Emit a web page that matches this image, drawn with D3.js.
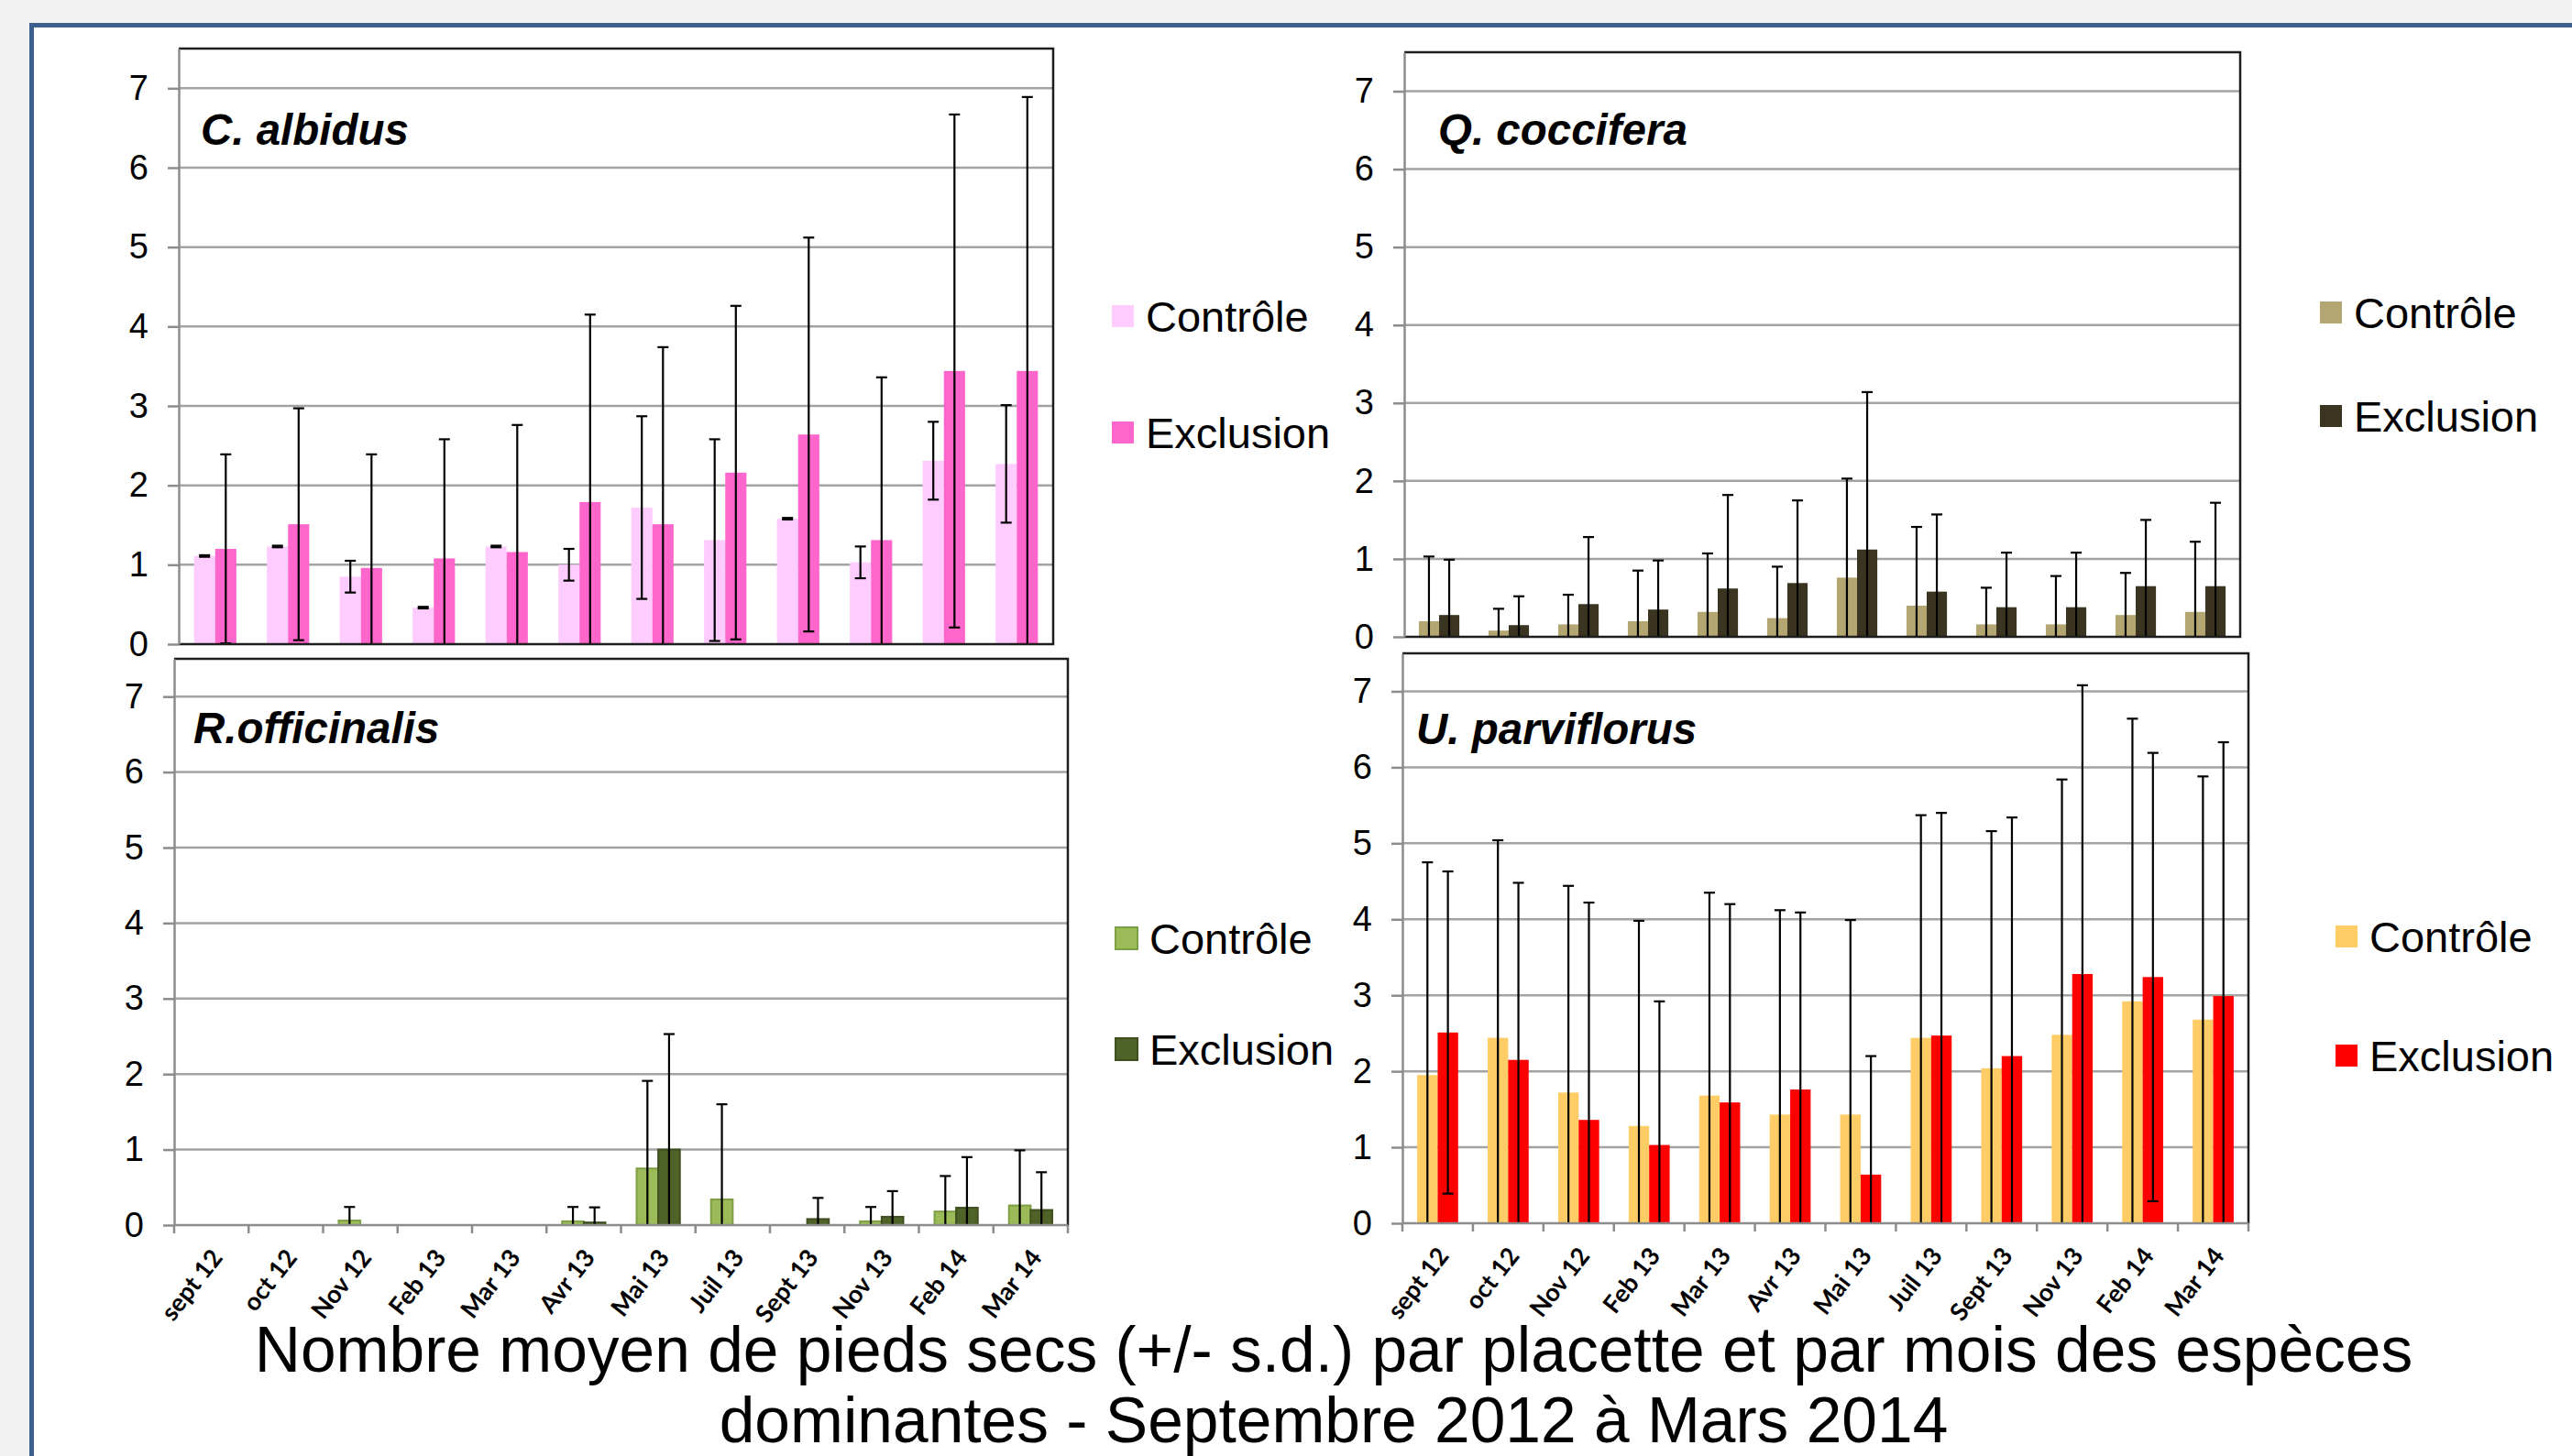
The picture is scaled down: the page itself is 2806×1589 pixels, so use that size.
<!DOCTYPE html>
<html>
<head>
<meta charset="utf-8">
<script src="https://cdn.jsdelivr.net/npm/d3@7"></script>
<style>
    html, body { margin: 0; padding: 0; background: #f2f2f2; }
    svg { display: block; }
</style>
</head>
<body>
<svg id="chart" width="2806" height="1589"></svg>
<script>
var months = ['sept 12', 'oct 12', 'Nov 12', 'Feb 13', 'Mar 13', 'Avr 13', 'Mai 13', 'Juil 13', 'Sept 13', 'Nov 13', 'Feb 14', 'Mar 14'];
var yTicks = [0, 1, 2, 3, 4, 5, 6, 7];
var seriesNames = ['Contrôle', 'Exclusion'];

var albidusCtrl   = [1.11, 1.23, 0.85, 0.46, 1.23, 1.00, 1.72, 1.31, 1.58, 1.03, 2.31, 2.27];
var albidusCtrlSd = [0.01, 0.01, 0.20, 0.01, 0.01, 0.20, 1.15, 1.27, 0.01, 0.20, 0.49, 0.74];
var albidusExcl   = [1.20, 1.51, 0.96, 1.08, 1.16, 1.79, 1.51, 2.16, 2.64, 1.31, 3.44, 3.44];
var albidusExclSd = [1.19, 1.46, 1.43, 1.50, 1.60, 2.36, 2.23, 2.10, 2.48, 2.05, 3.23, 3.45];

var cocciferaCtrl   = [0.20, 0.08, 0.16, 0.20, 0.32, 0.24, 0.76, 0.40, 0.16, 0.16, 0.28, 0.32];
var cocciferaCtrlSd = [0.83, 0.28, 0.38, 0.65, 0.75, 0.66, 1.27, 1.01, 0.47, 0.62, 0.54, 0.90];
var cocciferaExcl   = [0.28, 0.15, 0.42, 0.35, 0.62, 0.69, 1.12, 0.58, 0.38, 0.38, 0.65, 0.65];
var cocciferaExclSd = [0.71, 0.37, 0.86, 0.63, 1.20, 1.06, 2.02, 0.99, 0.70, 0.70, 0.85, 1.07];

var officinalisCtrl   = [0, 0, 0.06, 0, 0, 0.05, 0.75, 0.34, 0, 0.05, 0.18, 0.26];
var officinalisCtrlSd = [0, 0, 0.18, 0, 0, 0.19, 1.16, 1.26, 0, 0.19, 0.47, 0.73];
var officinalisExcl   = [0, 0, 0, 0, 0, 0.035, 1.00, 0, 0.08, 0.11, 0.23, 0.20];
var officinalisExclSd = [0, 0, 0, 0, 0, 0.20, 1.53, 0, 0.28, 0.34, 0.67, 0.50];

var parviflorusCtrl   = [1.95, 2.44, 1.72, 1.28, 1.68, 1.43, 1.43, 2.44, 2.04, 2.48, 2.92, 2.68];
var parviflorusCtrlSd = [2.80, 2.60, 2.72, 2.70, 2.67, 2.69, 2.56, 2.93, 3.12, 3.36, 3.72, 3.20];
var parviflorusExcl   = [2.51, 2.15, 1.36, 1.03, 1.59, 1.76, 0.64, 2.47, 2.20, 3.28, 3.24, 2.99];
var parviflorusExclSd = [2.12, 2.33, 2.86, 1.89, 2.61, 2.33, 1.56, 2.93, 3.14, 3.80, 2.95, 3.34];

var titleLines = [
    'Nombre moyen de pieds secs (+/- s.d.) par placette et par mois des espèces',
    'dominantes - Septembre 2012 à Mars 2014'
];

var panels = [
    {
        name: 'C. albidus', values: [albidusCtrl, albidusExcl], sds: [albidusCtrlSd, albidusExclSd],
        fills: ['#ffccff', '#ff66cc'], strokes: null,
        box: { x0: 195, x1: 1149, y0: 53, y1: 703 }, title: [219, 158],
        legend: { x: 1213, ys: [345, 472] }, lower: false
    },
    {
        name: 'Q. coccifera', values: [cocciferaCtrl, cocciferaExcl], sds: [cocciferaCtrlSd, cocciferaExclSd],
        fills: ['#b3a673', '#3b3421'], strokes: null,
        box: { x0: 1532, x1: 2444, y0: 57, y1: 695 }, title: [1569, 158],
        legend: { x: 2531, ys: [341, 454] }, lower: false
    },
    {
        name: 'R.officinalis', values: [officinalisCtrl, officinalisExcl], sds: [officinalisCtrlSd, officinalisExclSd],
        fills: ['#9bbb59', '#4f6228'], strokes: ['#7f9f45', '#3f4f1f'],
        box: { x0: 190, x1: 1165, y0: 719, y1: 1337 }, title: [211, 811],
        legend: { x: 1217, ys: [1024, 1145] }, lower: true
    },
    {
        name: 'U. parviflorus', values: [parviflorusCtrl, parviflorusExcl], sds: [parviflorusCtrlSd, parviflorusExclSd],
        fills: ['#ffcc66', '#ff0000'], strokes: null,
        box: { x0: 1530, x1: 2453, y0: 713, y1: 1335 }, title: [1545, 812],
        legend: { x: 2548, ys: [1022, 1152] }, lower: true
    }
];

var svg = d3.select('#chart');

// white slide area with the blue frame
svg.append('rect')
    .attr('x', 34.5).attr('y', 27.5)
    .attr('width', 3000).attr('height', 2000)
    .attr('fill', '#fff')
    .attr('stroke', '#3c5f8e')
    .attr('stroke-width', 5);

panels.forEach(function (p, idx) {
    drawPanel(p, idx);
});

svg.selectAll('.main-title')
    .data(titleLines)
    .enter().append('text')
    .attr('class', 'main-title')
    .attr('x', 1455)
    .attr('y', function (d, i) { return 1497 + i * 77; })
    .attr('text-anchor', 'middle')
    .attr('font-family', 'Liberation Sans, Arial, sans-serif')
    .attr('font-size', 69.5)
    .attr('fill', '#000')
    .text(function (d) { return d; });

function drawPanel(p, idx) {
    var b = p.box;
    var g = svg.append('g').attr('class', 'panel');

    var x = d3.scaleBand().domain(months).range([b.x0, b.x1]);
    var y = d3.scaleLinear().domain([0, 7.5]).range([b.y1, b.y0]);
    var sub = d3.scaleBand().domain([0, 1]).range([0, x.bandwidth()]).paddingOuter(0.72);

    // gridlines
    g.selectAll('.grid')
        .data(yTicks.slice(1))
        .enter().append('line')
        .attr('x1', b.x0).attr('x2', b.x1)
        .attr('y1', function (d) { return y(d); })
        .attr('y2', function (d) { return y(d); })
        .attr('stroke', '#a3a3a3')
        .attr('stroke-width', 2.5);

    var clipId = 'clip' + idx;
    svg.append('clipPath').attr('id', clipId)
        .append('rect')
        .attr('x', b.x0).attr('y', b.y0)
        .attr('width', b.x1 - b.x0).attr('height', b.y1 - b.y0);

    var rows = [];
    months.forEach(function (m, i) {
        [0, 1].forEach(function (s) {
            rows.push({ month: m, s: s, v: p.values[s][i], sd: p.sds[s][i] });
        });
    });

    var bars = g.append('g').attr('clip-path', 'url(#' + clipId + ')');

    bars.selectAll('.bar')
        .data(rows)
        .enter().append('rect')
        .attr('class', 'bar')
        .attr('x', function (d) { return x(d.month) + sub(d.s); })
        .attr('y', function (d) { return y(d.v); })
        .attr('width', sub.bandwidth())
        .attr('height', function (d) { return y(0) - y(d.v); })
        .attr('fill', function (d) { return p.fills[d.s]; })
        .attr('stroke', function (d) { return p.strokes ? p.strokes[d.s] : 'none'; })
        .attr('stroke-opacity', function (d) { return d.v > 0 ? 1 : 0.35; })
        .attr('stroke-width', 2);

    var errs = bars.selectAll('.err')
        .data(rows.filter(function (d) { return d.sd > 0; }))
        .enter().append('g')
        .attr('class', 'err')
        .attr('stroke', '#000')
        .attr('stroke-width', 2.2);

    var cx = function (d) { return x(d.month) + sub(d.s) + sub.bandwidth() / 2; };

    errs.append('line')
        .attr('x1', cx).attr('x2', cx)
        .attr('y1', function (d) { return y(d.v - d.sd); })
        .attr('y2', function (d) { return y(d.v + d.sd); });

    [1, -1].forEach(function (dir) {
        errs.append('line')
            .attr('x1', function (d) { return cx(d) - 6; })
            .attr('x2', function (d) { return cx(d) + 6; })
            .attr('y1', function (d) { return y(d.v + dir * d.sd); })
            .attr('y2', function (d) { return y(d.v + dir * d.sd); });
    });

    // plot frame
    var frame = 'M' + b.x0 + ',' + b.y0 + 'H' + b.x1 + 'V' + b.y1;
    if (!p.lower) {
        frame += 'H' + b.x0;
    }
    g.append('path')
        .attr('d', frame)
        .attr('fill', 'none')
        .attr('stroke', '#1e1e1e')
        .attr('stroke-width', 2.5);

    // y axis
    var yAxis = g.append('g')
        .attr('transform', 'translate(' + b.x0 + ',0)')
        .call(d3.axisLeft(y).tickValues(yTicks).tickSize(12).tickPadding(21).tickSizeOuter(0));
    yAxis.select('.domain').attr('stroke', '#8c8c8c').attr('stroke-width', 2.5);
    yAxis.selectAll('.tick line').attr('stroke', '#8c8c8c').attr('stroke-width', 2.5);
    yAxis.selectAll('.tick text')
        .attr('font-family', 'Liberation Sans, Arial, sans-serif')
        .attr('font-size', 38)
        .attr('fill', '#000');

    if (p.lower) {
        g.append('line')
            .attr('x1', b.x0).attr('x2', b.x1)
            .attr('y1', y(0)).attr('y2', y(0))
            .attr('stroke', '#8c8c8c').attr('stroke-width', 2.5);

        g.selectAll('.xtick')
            .data(d3.range(months.length + 1))
            .enter().append('line')
            .attr('x1', function (i) { return b.x0 + i * x.step(); })
            .attr('x2', function (i) { return b.x0 + i * x.step(); })
            .attr('y1', y(0)).attr('y2', y(0) + 9)
            .attr('stroke', '#8c8c8c').attr('stroke-width', 2.5);

        g.selectAll('.xlabel')
            .data(months)
            .enter().append('text')
            .attr('class', 'xlabel')
            .attr('text-anchor', 'end')
            .attr('transform', function (d) {
                return 'translate(' + (x(d) + x.bandwidth() / 2 + 6) + ',' + (y(0) + 30) + ') rotate(-52)';
            })
            .attr('dy', '0.35em')
            .attr('font-family', 'Lato, Carlito, sans-serif')
            .attr('font-weight', 700)
            .attr('font-size', 27)
            .attr('fill', '#000')
            .text(function (d) { return d; });
    }

    g.append('text')
        .attr('x', p.title[0]).attr('y', p.title[1])
        .attr('font-family', 'Liberation Sans, Arial, sans-serif')
        .attr('font-weight', 'bold')
        .attr('font-style', 'italic')
        .attr('font-size', 47.5)
        .attr('fill', '#000')
        .text(p.name);

    var leg = g.selectAll('.legend')
        .data(seriesNames)
        .enter().append('g')
        .attr('class', 'legend')
        .attr('transform', function (d, i) { return 'translate(' + p.legend.x + ',' + p.legend.ys[i] + ')'; });

    leg.append('rect')
        .attr('x', 0).attr('y', -12)
        .attr('width', 24).attr('height', 24)
        .attr('fill', function (d, i) { return p.fills[i]; })
        .attr('stroke', function (d, i) { return p.strokes ? p.strokes[i] : 'none'; })
        .attr('stroke-width', 2);

    leg.append('text')
        .attr('x', 37)
        .attr('dy', '0.36em')
        .attr('font-family', 'Liberation Sans, Arial, sans-serif')
        .attr('font-size', 47)
        .attr('fill', '#000')
        .text(function (d) { return d; });
}
</script>
</body>
</html>
